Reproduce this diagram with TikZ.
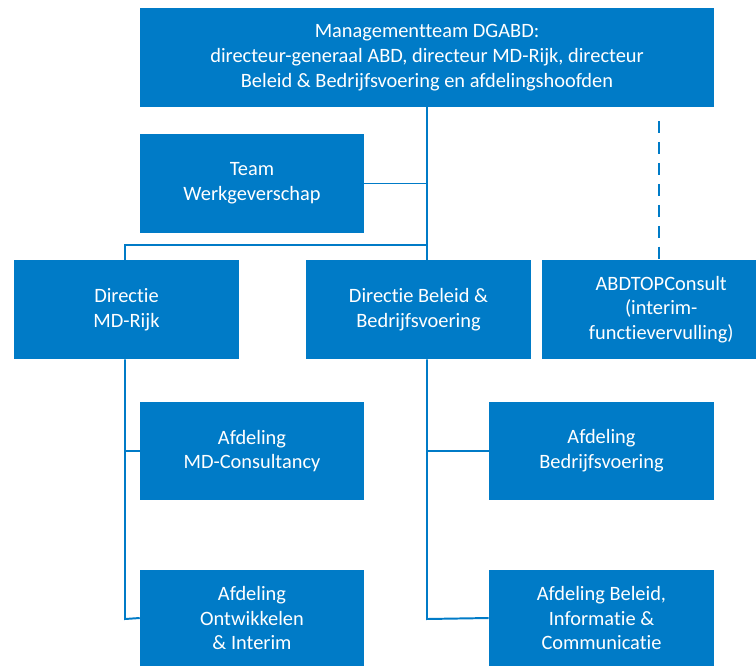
\documentclass[tikz,border=0pt]{standalone}
\usepackage{fontspec}
\setmainfont{Carlito}[Ligatures={NoCommon,NoContextual,NoRare}]
\definecolor{rijksblauw}{HTML}{007BC7}

\begin{document}
\begin{tikzpicture}[x=0.025cm,y=-0.025cm,
  box/.style={fill=rijksblauw,text=white,align=center,inner sep=0pt,
    font=\fontsize{14.5}{17.6}\selectfont},
  link/.style={draw=rijksblauw,line width=1.4pt},
  dashlink/.style={link,dash pattern=on 8.5pt off 6.4pt}]
\useasboundingbox (0,0) rectangle (756,666);
\node [box,minimum width=574*0.025cm,minimum height=99*0.025cm] (mt) at (427,57.5) {Managementteam DGABD:\\directeur-generaal ABD, directeur MD-Rijk, directeur\\Beleid \& Bedrijfsvoering en afdelingshoofden};
\node [box,minimum width=224*0.025cm,minimum height=99*0.025cm] (tw) at (252,183.5) {Team\\Werkgeverschap};
\node [box,minimum width=225*0.025cm,minimum height=99*0.025cm] (dmd) at (126.5,309.5) {Directie\\MD-Rijk};
\node [box,minimum width=225*0.025cm,minimum height=99*0.025cm] (dbb) at (418.5,309.5) {Directie Beleid \&\\Bedrijfsvoering};
\node [box,minimum width=214*0.025cm,minimum height=99*0.025cm] (abd) at (649,309.5) {\hspace{1.2em}ABDTOPConsult\\\hspace{1.2em}(interim-\\\hspace{1.2em}functievervulling)};
\node [box,minimum width=224*0.025cm,minimum height=98*0.025cm] (mdc) at (252,451) {Afdeling\\MD-Consultancy};
\node [box,minimum width=225*0.025cm,minimum height=98*0.025cm] (bv) at (601.5,451) {Afdeling\\Bedrijfsvoering};
\node [box,minimum width=224*0.025cm,minimum height=96*0.025cm] (oi) at (252,618) {Afdeling\\Ontwikkelen\\\& Interim};
\node [box,minimum width=225*0.025cm,minimum height=96*0.025cm] (bic) at (601.5,618) {Afdeling Beleid,\\Informatie \&\\Communicatie};
\coordinate (split) at (427,245);
\coordinate (dtop) at (659,121);
\draw [link] (mt.south -| split) -- (split |- dbb.north);
\draw [link] (tw.east) -- (tw.east -| split);
\draw [link] (split) -- (125,245) -- (dmd.north -| 125,0);
\draw [dashlink] (dtop) -- (dtop |- abd.north);
\draw [link] (dmd.south -| 125,0) -- (125,619) -- (oi.west);
\draw [link] (mdc.west) -- (mdc.west -| 125,0);
\draw [link] (dbb.south -| split) -- (427,619) -- (bic.west);
\draw [link] (bv.west) -- (bv.west -| split);
\end{tikzpicture}
\end{document}
